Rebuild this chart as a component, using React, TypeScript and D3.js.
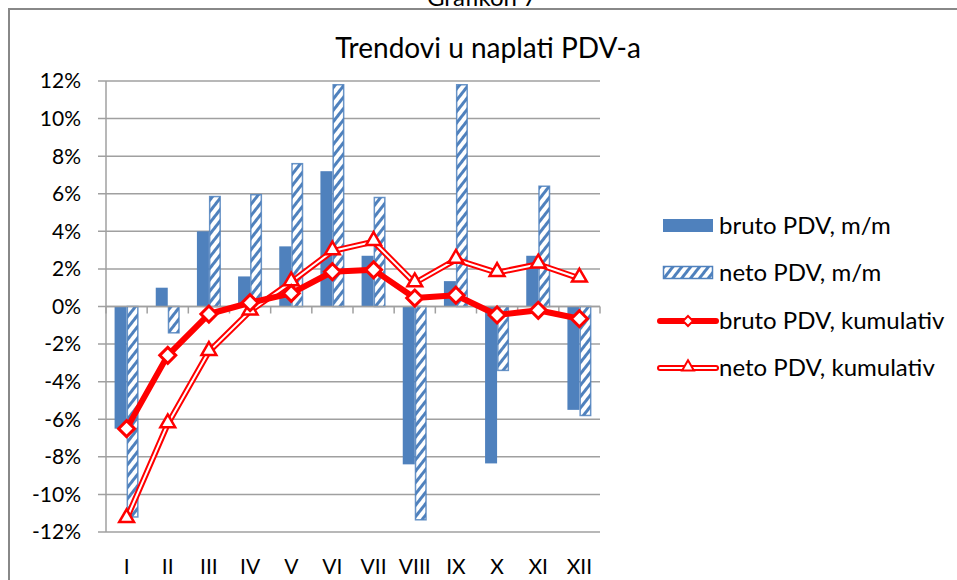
import React, { useRef, useEffect } from 'react';
import * as d3 from 'd3';

const months = ['I', 'II', 'III', 'IV', 'V', 'VI', 'VII', 'VIII', 'IX', 'X', 'XI', 'XII'];
const brutoMM = [-6.5, 1.0, 4.0, 1.6, 3.2, 7.2, 2.7, -8.4, 1.35, -8.35, 2.7, -5.5];
const netoMM = [-11.2, -1.4, 5.85, 5.95, 7.6, 11.8, 5.8, -11.35, 11.8, -3.4, 6.4, -5.8];
const brutoKum = [-6.5, -2.6, -0.4, 0.2, 0.7, 1.85, 1.95, 0.45, 0.6, -0.45, -0.2, -0.65];
const netoKum = [-11.3, -6.25, -2.4, -0.25, 1.3, 2.95, 3.45, 1.25, 2.5, 1.8, 2.25, 1.5];
const yTicks = [-12, -10, -8, -6, -4, -2, 0, 2, 4, 6, 8, 10, 12];
const legendLabels = ['bruto PDV, m/m', 'neto PDV, m/m', 'bruto PDV, kumulativ', 'neto PDV, kumulativ'];

const W = 957;
const H = 580;
const FONT = 'Lato, "Noto Sans", sans-serif';
const BLUE = '#4f81bd';
const RED = '#ff0000';
const GRID = '#a0a0a0';

const App = () => {
  const svgRef = useRef<SVGSVGElement>(null);

  useEffect(() => {
    draw();
  }, []);

  const draw = () => {
    const svg = d3.select(svgRef.current);
    svg.selectAll('*').remove();

    const left = 106, right = 600, top = 81, bottom = 532;

    // hatch pattern za neto bars
    const defs = svg.append('defs');
    const pat = defs.append('pattern')
      .attr('id', 'hatch')
      .attr('patternUnits', 'userSpaceOnUse')
      .attr('width', 7)
      .attr('height', 7)
      .attr('patternTransform', 'rotate(38)');
    pat.append('rect').attr('width', 7).attr('height', 7).attr('fill', '#fff');
    pat.append('rect').attr('width', 3).attr('height', 7).attr('fill', BLUE);

    // okvir
    svg.append('line').attr('x1', 8).attr('x2', W).attr('y1', 9).attr('y2', 9)
      .attr('stroke', '#888').attr('stroke-width', 2);
    svg.append('line').attr('x1', 9).attr('x2', 9).attr('y1', 9).attr('y2', H)
      .attr('stroke', '#888').attr('stroke-width', 2);

    // naslov iznad okvira, odsjecen kao u originalu
    svg.append('text')
      .attr('x', 482).attr('y', 6)
      .attr('text-anchor', 'middle')
      .style('font-family', FONT).style('font-size', '24px')
      .text('Grafikon 7');

    svg.append('text')
      .attr('x', 488).attr('y', 58)
      .attr('text-anchor', 'middle')
      .style('font-family', FONT).style('font-size', '28px')
      .attr('fill', '#000')
      .text('Trendovi u naplati PDV-a');

    const x = d3.scaleBand().domain(months).range([left, right]);
    const y = d3.scaleLinear().domain([-12, 12]).range([bottom, top]);
    const barW = 12;

    // grid
    svg.append('g').selectAll('line').data(yTicks).enter().append('line')
      .attr('x1', left - 8).attr('x2', right)
      .attr('y1', d => y(d)).attr('y2', d => y(d))
      .attr('stroke', GRID).attr('stroke-width', 1.5);

    // y osa
    svg.append('line').attr('x1', left).attr('x2', left).attr('y1', top).attr('y2', bottom)
      .attr('stroke', GRID).attr('stroke-width', 1.5);

    svg.append('g').selectAll('text').data(yTicks).enter().append('text')
      .attr('x', 81).attr('y', d => y(d))
      .attr('dy', '0.35em')
      .attr('text-anchor', 'end')
      .style('font-family', FONT).style('font-size', '21px')
      .text(d => d + '%');

    // bars
    const bars = svg.append('g');
    bars.selectAll('rect.b').data(brutoMM).enter().append('rect')
      .attr('class', 'b')
      .attr('x', (d, i) => x(months[i])! + x.bandwidth() / 2 - barW)
      .attr('y', d => y(Math.max(0, d)))
      .attr('width', barW)
      .attr('height', d => Math.abs(y(d) - y(0)))
      .attr('fill', BLUE);
    bars.selectAll('rect.n').data(netoMM).enter().append('rect')
      .attr('class', 'n')
      .attr('x', (d, i) => x(months[i])! + x.bandwidth() / 2 + 0.75)
      .attr('y', d => y(Math.max(0, d)))
      .attr('width', barW - 1.5)
      .attr('height', d => Math.abs(y(d) - y(0)))
      .attr('fill', 'url(#hatch)')
      .attr('stroke', BLUE)
      .attr('stroke-opacity', 0.85)
      .attr('stroke-width', 1.5);

    // x osa
    svg.append('line').attr('x1', left).attr('x2', right).attr('y1', y(0)).attr('y2', y(0))
      .attr('stroke', GRID).attr('stroke-width', 1.5);
    svg.append('g').selectAll('line').data(d3.range(months.length + 1)).enter().append('line')
      .attr('x1', i => left + i * x.bandwidth()).attr('x2', i => left + i * x.bandwidth())
      .attr('y1', y(0)).attr('y2', y(0) + 7)
      .attr('stroke', GRID).attr('stroke-width', 1.5);
    svg.append('g').selectAll('text').data(months).enter().append('text')
      .attr('x', d => x(d)! + x.bandwidth() / 2)
      .attr('y', 567).attr('dy', '0.35em')
      .attr('text-anchor', 'middle')
      .style('font-family', FONT).style('font-size', '21px')
      .text(d => d);

    const cx = (i: number) => x(months[i])! + x.bandwidth() / 2;
    const line = d3.line<number>().x((d, i) => cx(i)).y(d => y(d));

    // neto kumulativ - dvostruka linija
    svg.append('path').attr('d', line(netoKum)).attr('fill', 'none')
      .attr('stroke', RED).attr('stroke-width', 6).attr('stroke-linejoin', 'round');
    svg.append('path').attr('d', line(netoKum)).attr('fill', 'none')
      .attr('stroke', '#fff').attr('stroke-width', 2).attr('stroke-linejoin', 'round');
    const tri = d3.symbol().type(d3.symbolTriangle).size(95);
    svg.append('g').selectAll('path').data(netoKum).enter().append('path')
      .attr('d', tri())
      .attr('transform', (d, i) => `translate(${cx(i)},${y(d) - 1})`)
      .attr('fill', '#fff').attr('stroke', RED).attr('stroke-width', 2.5);

    // bruto kumulativ
    svg.append('path').attr('d', line(brutoKum)).attr('fill', 'none')
      .attr('stroke', RED).attr('stroke-width', 6).attr('stroke-linejoin', 'round');
    const diamond = 'M0,-8 L8,0 L0,8 L-8,0 Z';
    svg.append('g').selectAll('path').data(brutoKum).enter().append('path')
      .attr('d', diamond)
      .attr('transform', (d, i) => `translate(${cx(i)},${y(d)})`)
      .attr('fill', '#fff').attr('stroke', RED).attr('stroke-width', 3);

    // legenda
    const lg = svg.append('g');
    const rowY = [226, 273, 321, 368];
    lg.append('rect').attr('x', 663).attr('y', rowY[0] - 7).attr('width', 50).attr('height', 13)
      .attr('fill', BLUE);
    lg.append('rect').attr('x', 663.5).attr('y', rowY[1] - 6.5).attr('width', 49).attr('height', 12)
      .attr('fill', 'url(#hatch)').attr('stroke', BLUE).attr('stroke-width', 1.5);
    lg.append('line').attr('x1', 660).attr('x2', 716).attr('y1', rowY[2]).attr('y2', rowY[2])
      .attr('stroke', RED).attr('stroke-width', 6).attr('stroke-linecap', 'round');
    lg.append('path').attr('d', 'M0,-5 L5,0 L0,5 L-5,0 Z')
      .attr('transform', `translate(688,${rowY[2]})`)
      .attr('fill', '#fff').attr('stroke', RED).attr('stroke-width', 2);
    lg.append('line').attr('x1', 660).attr('x2', 716).attr('y1', rowY[3]).attr('y2', rowY[3])
      .attr('stroke', RED).attr('stroke-width', 6).attr('stroke-linecap', 'round');
    lg.append('line').attr('x1', 660).attr('x2', 716).attr('y1', rowY[3]).attr('y2', rowY[3])
      .attr('stroke', '#fff').attr('stroke-width', 2).attr('stroke-linecap', 'round');
    lg.append('path').attr('d', d3.symbol().type(d3.symbolTriangle).size(60)())
      .attr('transform', `translate(688,${rowY[3] - 1})`)
      .attr('fill', '#fff').attr('stroke', RED).attr('stroke-width', 2);
    lg.selectAll('text').data(legendLabels).enter().append('text')
      .attr('x', 719).attr('y', (d, i) => rowY[i]).attr('dy', '0.35em')
      .style('font-family', FONT).style('font-size', '24px')
      .text(d => d);
  };

  return (
    <svg ref={svgRef} width={W} height={H}
      style={{ position: 'absolute', left: 0, top: 0, background: '#fff' }} />
  );
};

export default App;
